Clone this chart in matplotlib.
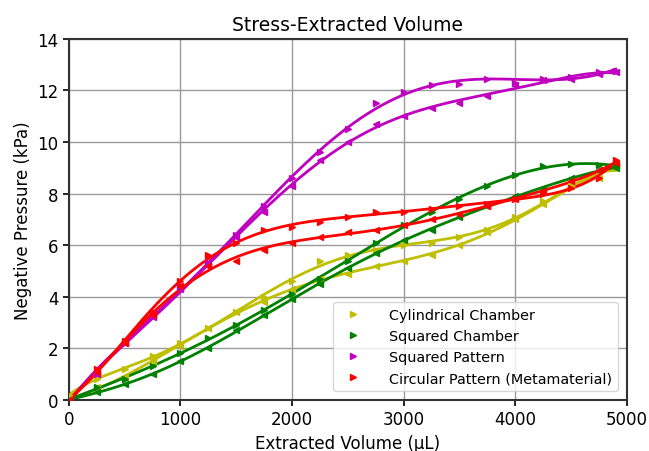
import numpy as np
import matplotlib
matplotlib.use("Agg")
import matplotlib.pyplot as plt

volume = [0, 250, 500, 750, 1000, 1250, 1500, 1750, 2000, 2250, 2500,
          2750, 3000, 3250, 3500, 3750, 4000, 4250, 4500, 4750, 4900]

cyl_load = [0.2, 0.8, 1.2, 1.7, 2.2, 2.8, 3.4, 4.0, 4.6, 5.4, 5.6,
            5.8, 6.0, 6.1, 6.3, 6.6, 7.1, 7.7, 8.3, 8.6, 9.0]
cyl_unload = [0.0, 0.5, 0.9, 1.5, 2.1, 2.8, 3.4, 3.8, 4.3, 4.7, 4.9,
              5.2, 5.4, 5.6, 6.0, 6.5, 7.0, 7.6, 8.3, 8.6, 9.1]

sqc_load = [0.0, 0.5, 0.8, 1.3, 1.8, 2.4, 2.9, 3.5, 4.1, 4.7, 5.4,
            6.1, 6.8, 7.3, 7.8, 8.3, 8.7, 9.05, 9.15, 9.1, 9.1]
sqc_unload = [0.0, 0.3, 0.6, 1.0, 1.5, 2.0, 2.7, 3.3, 3.9, 4.5, 5.1,
              5.7, 6.2, 6.6, 7.1, 7.5, 7.9, 8.2, 8.6, 8.9, 9.0]

sqp_load = [0.0, 1.0, 2.2, 3.3, 4.4, 5.3, 6.4, 7.5, 8.6, 9.6, 10.5,
            11.5, 11.95, 12.2, 12.25, 12.45, 12.3, 12.45, 12.5, 12.7, 12.75]
sqp_unload = [0.0, 1.0, 2.2, 3.2, 4.3, 5.2, 6.3, 7.3, 8.3, 9.3, 10.0,
              10.7, 11.0, 11.3, 11.5, 11.8, 12.2, 12.4, 12.45, 12.65, 12.7]

cir_load = [0.0, 1.2, 2.3, 3.4, 4.6, 5.6, 6.1, 6.6, 6.7, 6.9, 7.1,
            7.3, 7.3, 7.4, 7.5, 7.6, 7.8, 8.0, 8.2, 8.6, 9.3]
cir_unload = [0.0, 1.1, 2.2, 3.3, 4.4, 5.2, 5.4, 5.8, 6.1, 6.3, 6.5,
              6.6, 6.8, 7.0, 7.2, 7.5, 7.8, 8.1, 8.5, 8.9, 9.2]

labels = ["Cylindrical Chamber", "Squared Chamber", "Squared Pattern",
          "Circular Pattern (Metamaterial)"]
colors = ["#bfbf00", "#008000", "#bf00bf", "#ff0000"]
series = [(cyl_load, cyl_unload), (sqc_load, sqc_unload),
          (sqp_load, sqp_unload), (cir_load, cir_unload)]

fig = plt.figure(figsize=(6.49, 4.52), dpi=100)
ax = fig.add_axes([0.106, 0.113, 0.86, 0.799])

x = np.array(volume, dtype=float)
xs = np.linspace(0, x.max(), 300)
for (ld, ul), c, lab in zip(series, colors, labels):
    for ys, mk in ((ld, ">"), (ul, "<")):
        ys = np.array(ys)
        p = np.polyfit(x, ys, 6)
        ax.plot(xs, np.polyval(p, xs), color=c, lw=2, zorder=2)
        ax.plot(x, ys, mk, color=c, ms=5, ls="none", zorder=3,
                label=lab if mk == ">" else None)

ax.set_xlim(0, 5000)
ax.set_ylim(0, 14)
ax.set_xticks([0, 1000, 2000, 3000, 4000, 5000])
ax.set_yticks([0, 2, 4, 6, 8, 10, 12, 14])
ax.grid(True, color="#9a9a9a", lw=1)
ax.set_axisbelow(True)
ax.tick_params(labelsize=12, width=1.2, length=4)
for s in ax.spines.values():
    s.set_linewidth(1.5)
    s.set_color("#333333")
ax.set_title("Stress-Extracted Volume", fontsize=13.5)
ax.set_xlabel("Extracted Volume (\u03bcL)", fontsize=12)
ax.set_ylabel("Negative Pressure (kPa)", fontsize=12)
ax.legend(loc="lower right", fontsize=10.4, markerscale=1.0,
          handletextpad=1.5, borderaxespad=0.6)

fig.savefig("out.png", dpi=100)
